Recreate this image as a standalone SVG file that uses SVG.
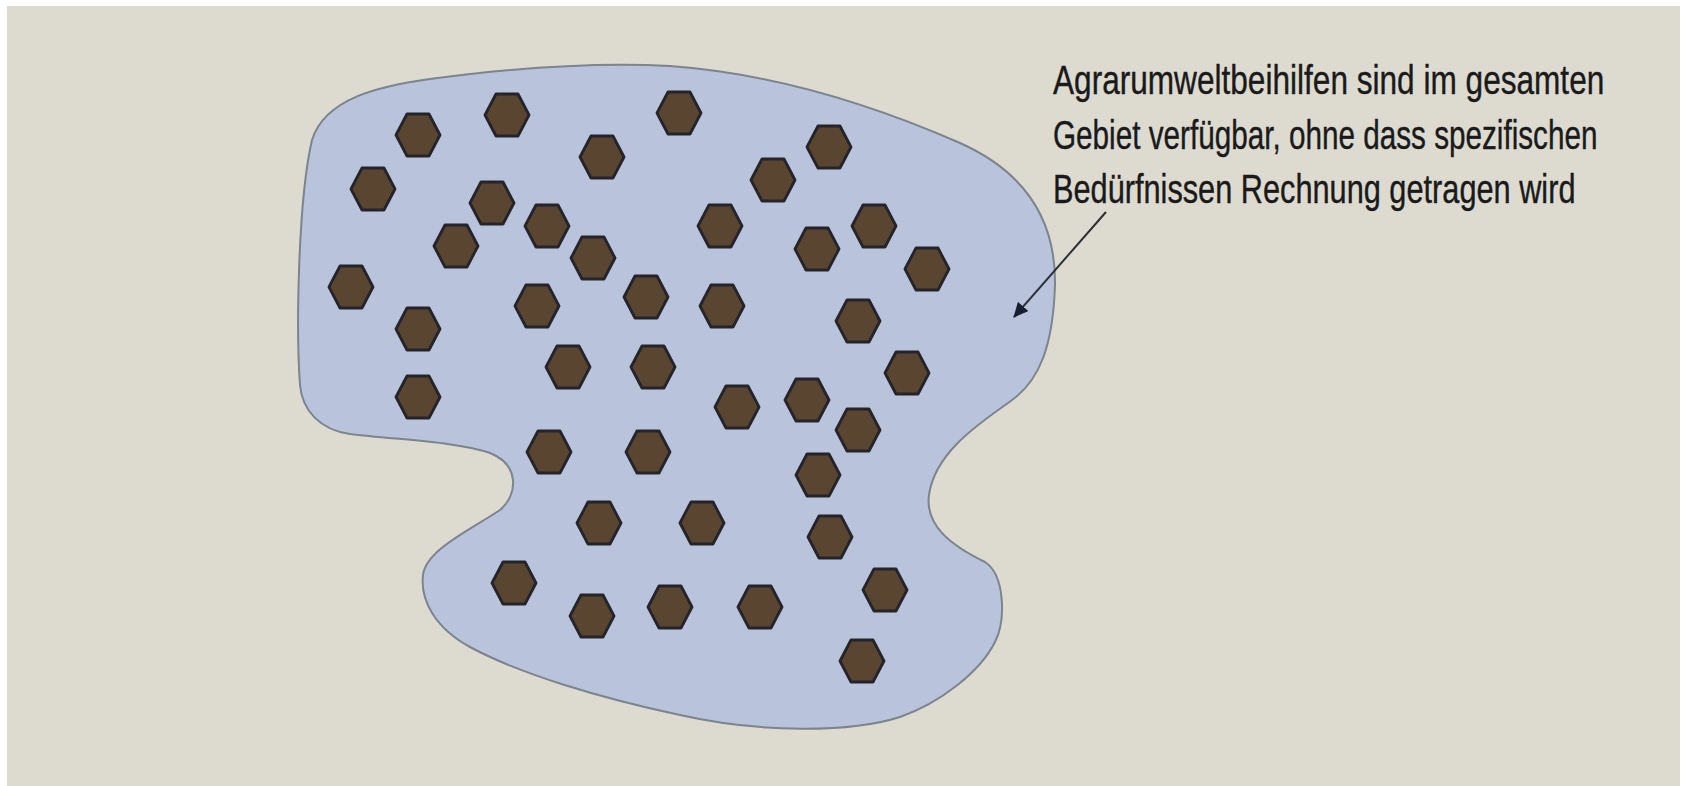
<svg xmlns="http://www.w3.org/2000/svg" width="1682" height="786" viewBox="0 0 1682 786">
<style>
.hex{fill:#5a4530;stroke:#24242a;stroke-width:2.8;stroke-linejoin:round}
.lbl{font-family:"Liberation Sans",Arial,sans-serif;font-size:40px;fill:#1a1a1a;stroke:#1a1a1a;stroke-width:0.4}
</style>
<defs>
<polygon id="h" points="22,0 11,21 -11,21 -22,0 -11,-21 11,-21"/>
<marker id="ah" markerWidth="16" markerHeight="14" refX="14" refY="7" orient="auto" markerUnits="userSpaceOnUse">
<path d="M0,0 L15,7 L0,14 Z" fill="#18202f"/>
</marker>
</defs>
<rect x="0" y="0" width="1682" height="786" fill="#ffffff"/>
<rect x="7" y="6" width="1673" height="780" fill="#dddbd0"/>
<g id="area">
<path d="M 312,140 C 325,98 380,86 430,79 C 520,67 600,62 670,66 C 780,74 880,108 960,143 C 1025,172 1056,220 1055,285 C 1053,345 1040,380 1012,400 C 985,420 935,450 929,495 C 925,525 950,545 985,562 C 1005,575 1006,620 995,642 C 980,672 940,703 900,717 C 850,733 760,733 680,715 C 600,698 520,674 470,647 C 435,628 420,600 423,575 C 426,550 470,530 500,510 C 518,495 520,465 490,453 C 460,442 400,440 350,434 C 320,430 302,410 300,385 C 296,330 298,200 312,140 Z" fill="#b9c3db" stroke="#7c848e" stroke-width="2"/>
</g>
<g id="units">
<use href="#h" class="hex" x="418" y="135"/>
<use href="#h" class="hex" x="507" y="115"/>
<use href="#h" class="hex" x="373" y="189"/>
<use href="#h" class="hex" x="602" y="157"/>
<use href="#h" class="hex" x="492" y="203"/>
<use href="#h" class="hex" x="547" y="226"/>
<use href="#h" class="hex" x="456" y="246"/>
<use href="#h" class="hex" x="593" y="258"/>
<use href="#h" class="hex" x="351" y="287"/>
<use href="#h" class="hex" x="537" y="306"/>
<use href="#h" class="hex" x="646" y="297"/>
<use href="#h" class="hex" x="418" y="329"/>
<use href="#h" class="hex" x="568" y="367"/>
<use href="#h" class="hex" x="653" y="367"/>
<use href="#h" class="hex" x="418" y="397"/>
<use href="#h" class="hex" x="679" y="113"/>
<use href="#h" class="hex" x="829" y="147"/>
<use href="#h" class="hex" x="773" y="180"/>
<use href="#h" class="hex" x="720" y="226"/>
<use href="#h" class="hex" x="874" y="226"/>
<use href="#h" class="hex" x="817" y="249"/>
<use href="#h" class="hex" x="927" y="269"/>
<use href="#h" class="hex" x="722" y="306"/>
<use href="#h" class="hex" x="858" y="321"/>
<use href="#h" class="hex" x="907" y="373"/>
<use href="#h" class="hex" x="549" y="452"/>
<use href="#h" class="hex" x="648" y="452"/>
<use href="#h" class="hex" x="599" y="523"/>
<use href="#h" class="hex" x="514" y="583"/>
<use href="#h" class="hex" x="592" y="616"/>
<use href="#h" class="hex" x="670" y="607"/>
<use href="#h" class="hex" x="737" y="407"/>
<use href="#h" class="hex" x="807" y="400"/>
<use href="#h" class="hex" x="858" y="430"/>
<use href="#h" class="hex" x="818" y="475"/>
<use href="#h" class="hex" x="702" y="523"/>
<use href="#h" class="hex" x="830" y="537"/>
<use href="#h" class="hex" x="760" y="607"/>
<use href="#h" class="hex" x="885" y="590"/>
<use href="#h" class="hex" x="862" y="661"/>
</g>
<g id="label">
<text class="lbl" transform="translate(1053,94) scale(0.79,1)">Agrarumweltbeihilfen sind im gesamten</text>
<text class="lbl" transform="translate(1053,149) scale(0.742,1)">Gebiet verfügbar, ohne dass spezifischen</text>
<text class="lbl" transform="translate(1053,203) scale(0.768,1)">Bedürfnissen Rechnung getragen wird</text>
</g>
<g id="connectors">
<line x1="1106" y1="212" x2="1014" y2="317" stroke="#2a2e36" stroke-width="2" marker-end="url(#ah)"/>
</g>
</svg>
